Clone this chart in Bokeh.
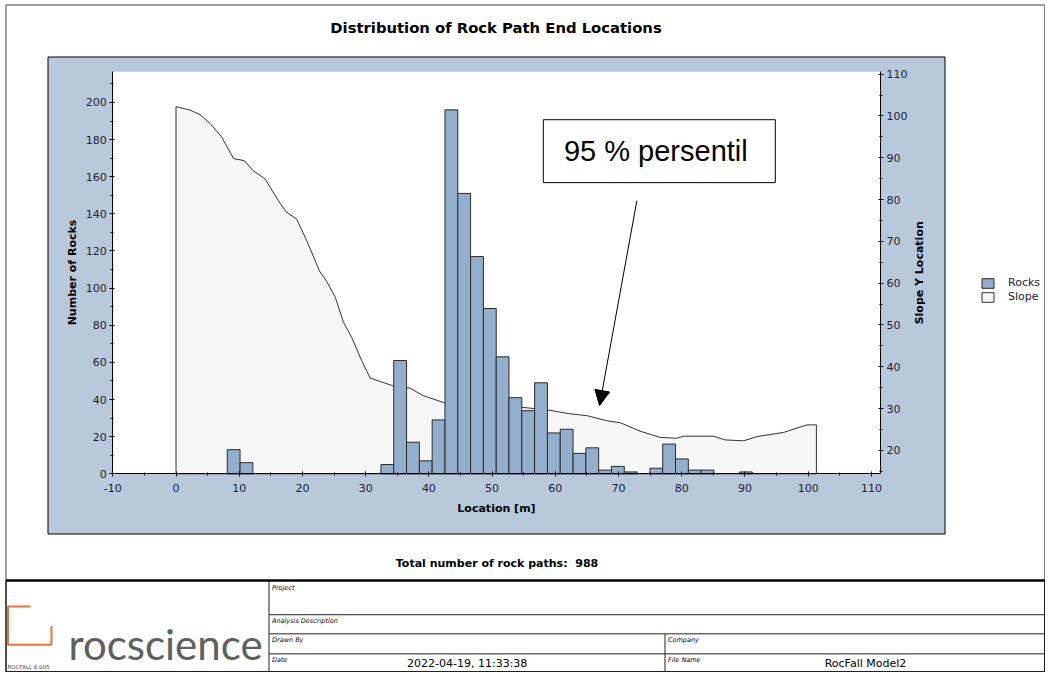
import math
from bokeh.plotting import figure
from bokeh.models import (Range1d, LinearAxis, FixedTicker, Legend, LegendItem,
                          Arrow, NormalHead)
from bokeh.core.properties import value
from bokeh.embed import file_html
from bokeh.resources import INLINE

# ---------------- data ----------------
title_text = "Distribution of Rock Path End Locations"
x_label = "Location [m]"
yl_label = "Number of Rocks"
yr_label = "Slope Y Location"
total_paths = 988

bin_width = 2.026  # m, histogram bin width (50 bins over the slope length)
rock_counts = [0, 0, 0, 0, 13, 6, 0, 0, 0, 0,
               0, 0, 0, 0, 0, 0, 5, 61, 17, 7,
               29, 196, 151, 117, 89, 63, 41, 34, 49, 22,
               24, 11, 14, 2, 4, 1, 0, 3, 16, 8,
               2, 2, 0, 0, 1, 0, 0, 0, 0, 0]

slope_x = [0.0, 2.2, 3.8, 5.4, 7.2, 9.1, 10.8, 12.2, 14.1, 16.2, 17.4, 19.1,
           20.7, 22.7, 23.8, 25.2, 26.5, 27.8, 29.4, 30.7, 34.4, 37.0, 39.1,
           42.6, 47.5, 52.7, 54.7, 58.7, 62.1, 65.0, 68.1, 70.3, 73.4, 76.6,
           79.2, 80.3, 85.0, 86.9, 89.8, 91.9, 96.1, 99.8, 101.3]
slope_y = [102.2, 101.4, 100.3, 98.2, 95.0, 89.8, 89.3, 86.9, 84.9, 79.7, 77.1, 75.3,
           70.1, 62.9, 60.5, 56.6, 50.6, 47.0, 41.4, 37.3, 35.4, 34.9, 33.1,
           31.3, 31.0, 30.7, 30.3, 29.7, 28.8, 28.3, 27.1, 26.6, 24.6, 23.1,
           22.9, 23.4, 23.4, 22.5, 22.3, 23.3, 24.3, 26.1, 26.1]

x_ticks = list(range(-10, 111, 10))
x_minor = list(range(-5, 110, 10))
yl_ticks = list(range(0, 201, 20))
yl_minor = list(range(10, 211, 20))
yr_ticks = list(range(20, 111, 10))
yr_minor = list(range(15, 110, 10))

annot_text = "95 % persentil"
annot_box = dict(left=58.1, right=94.8, top=190.7, bottom=156.8)   # chart units
annot_text_pos = (75.9, 174.0)
annot_arrow = dict(x_start=72.9, y_start=147.1, x_end=67.0, y_end=36.8)

tb_project = "Project"
tb_desc = "Analysis Description"
tb_drawn = "Drawn By"
tb_date_lbl = "Date"
tb_company = "Company"
tb_file_lbl = "File Name"
tb_date = "2022-04-19, 11:33:38"
tb_file = "RocFall Model2"
logo_text = "rocscience"
version_text = "ROCFALL 8.005"

# ---------------- layout ----------------
W, H = 1045, 672

FR_L, FR_R, FR_T, FR_B = 112.3, 880.0, 71.3, 473.3
X0, X1 = -10.0, 111.44
YL0, YL1 = 0.0, 216.5
YR0, YR1 = 14.4, 110.55

BLUE = "#B8C9DC"
BAR = "#94AECE"
SLOPE_FILL = "#F7F7F7"
TICK_COL = "#222233"


def ext_x(d0, d1, p0, p1):
    s = (d1 - d0) / (p1 - p0)
    return Range1d(d0 - p0 * s, d0 + (W - p0) * s)


def ext_y(d0, d1, pb, pt):
    s = (d1 - d0) / (pb - pt)
    return Range1d(d0 - (H - pb) * s, d0 + pb * s)


p = figure(width=W, height=H, x_range=Range1d(0, W), y_range=Range1d(H, 0),
           x_axis_type=None, y_axis_type=None, min_border=0,
           toolbar_location=None, output_backend="svg",
           background_fill_color="white", border_fill_color="white")
p.outline_line_color = None
p.extra_x_ranges = {"cx": ext_x(X0, X1, FR_L, FR_R)}
p.extra_y_ranges = {"yl": ext_y(YL0, YL1, FR_B, FR_T),
                    "yr": ext_y(YR0, YR1, FR_B, FR_T)}


def txt(x, y, s, size, font="DejaVu Sans", style="normal", color="black",
        align="left", baseline="middle", angle=0, **kw):
    p.text(x=[x], y=[y], text=[s], text_font=value(font), text_font_size=size,
           text_font_style=style, text_color=color, text_align=align,
           text_baseline=baseline, angle=angle, **kw)


# outer frame
p.quad(left=5.5, right=W - 0.75, top=4.5, bottom=H - 0.75,
       fill_color=None, line_color="#808080", line_width=1.5)

# title
txt(495.5, 27, title_text, "14.8px", style="bold", align="center")

# blue panel and white plot area
p.quad(left=47.5, right=944.5, top=56.5, bottom=533.5,
       fill_color=BLUE, line_color="black", line_width=1)
p.quad(left=FR_L, right=FR_R, top=FR_T, bottom=FR_B,
       fill_color="white", line_color=None)

# slope area
px = [slope_x[0]] + slope_x + [slope_x[-1]]
py = [YR0] + slope_y + [YR0]
slope_r = p.patch(x=px, y=py, x_range_name="cx", y_range_name="yr",
                  fill_color=SLOPE_FILL, line_color="#333333", line_width=1)

# histogram bars
centers = [(i + 0.5) * bin_width for i, n in enumerate(rock_counts) if n > 0]
counts = [n for n in rock_counts if n > 0]
bars_r = p.vbar(x=centers, top=counts, bottom=0, width=bin_width,
                x_range_name="cx", y_range_name="yl",
                fill_color=BAR, line_color="#2a2a2a", line_width=1)


# axes
def style(ax):
    ax.axis_line_color = "black"
    ax.major_tick_line_color = "black"
    ax.minor_tick_line_color = "black"
    ax.major_tick_in = 2
    ax.major_tick_out = 3
    ax.minor_tick_in = 1
    ax.minor_tick_out = 2
    ax.major_label_text_font = "DejaVu Sans"
    ax.major_label_text_font_size = "11px"
    ax.major_label_text_color = TICK_COL
    ax.major_label_standoff = 3
    ax.axis_label_text_font = "DejaVu Sans"
    ax.axis_label_text_font_style = "bold"
    ax.axis_label_text_font_size = "11px"
    ax.axis_label_text_color = "black"


xa = LinearAxis(x_range_name="cx", y_range_name="yl", fixed_location=YL0,
                bounds=(X0, X1), ticker=FixedTicker(ticks=x_ticks, minor_ticks=x_minor),
                axis_label=x_label)
style(xa)
xa.major_label_standoff = 7
xa.axis_label_standoff = 7
xa.major_label_overrides = {t: str(t) for t in x_ticks}
p.add_layout(xa, "below")

yla = LinearAxis(x_range_name="cx", y_range_name="yl", fixed_location=X0,
                 bounds=(YL0, YL1), ticker=FixedTicker(ticks=yl_ticks, minor_ticks=yl_minor),
                 axis_label=yl_label)
style(yla)
yla.axis_label_standoff = 4
p.add_layout(yla, "left")

yra = LinearAxis(x_range_name="cx", y_range_name="yr", fixed_location=X1,
                 bounds=(YR0, YR1), ticker=FixedTicker(ticks=yr_ticks, minor_ticks=yr_minor))
style(yra)
p.add_layout(yra, "right")
# right axis title (reads bottom-to-top as in the original)
txt(919, (FR_T + FR_B) / 2, yr_label, "11px", style="bold", align="center",
    angle=math.pi / 2)

# annotation
p.quad(x_range_name="cx", y_range_name="yl", fill_color="white",
       line_color="black", line_width=1, **annot_box)
p.text(x=[annot_text_pos[0]], y=[annot_text_pos[1]], text=[annot_text],
       x_range_name="cx", y_range_name="yl", text_font=value("Liberation Sans"),
       text_font_size="29px", text_color="black", text_align="center",
       text_baseline="middle")
p.add_layout(Arrow(end=NormalHead(size=15, fill_color="black", line_color="black"),
                   line_color="black", line_width=1, x_range_name="cx",
                   y_range_name="yl", **annot_arrow))

# legend
legend = Legend(items=[LegendItem(label="Rocks", renderers=[bars_r]),
                       LegendItem(label="Slope", renderers=[slope_r])],
                location=(980, H - 303), padding=0, margin=0, spacing=1,
                glyph_width=15, glyph_height=12, label_height=12,
                label_standoff=13, label_text_font="DejaVu Sans",
                label_text_font_size="11px", label_text_color=TICK_COL,
                border_line_color=None, background_fill_alpha=0)
p.add_layout(legend)

# total paths
txt(496.5, 563, "Total number of rock paths:\u00a0 %d" % total_paths, "11px",
    style="bold", align="center")

# ---------------- title block ----------------
TB_T = 580.0
TB_B = H - 0.75
TB_S = (TB_B - TB_T) / (687.0 - 583.5)


def tby(Y):
    return TB_T + (Y - 583.5) * TB_S


R1, R2, R3 = tby(622.3), tby(644.0), tby(666.7)
DIV1, DIV2 = 268.5, 664.5
TB_L, TB_R = 5.5, W - 0.75
p.segment(x0=[TB_L], y0=[TB_T], x1=[TB_R], y1=[TB_T], line_color="black", line_width=2.5)
p.quad(left=TB_L, right=TB_R, top=TB_T, bottom=TB_B, fill_color=None,
       line_color="black", line_width=1)
p.segment(x0=[DIV1, DIV1, DIV1, DIV1, DIV2], y0=[TB_T, R1, R2, R3, R2],
          x1=[DIV1, TB_R, TB_R, TB_R, DIV2], y1=[TB_B, R1, R2, R3, TB_B],
          line_color="#222222", line_width=1)

lab_font = "6.5px"
txt(DIV1 + 3, TB_T + 3, tb_project, lab_font, style="italic", baseline="top")
txt(DIV1 + 3, R1 + 2, tb_desc, lab_font, style="italic", baseline="top")
txt(DIV1 + 3, R2 + 2, tb_drawn, lab_font, style="italic", baseline="top")
txt(DIV1 + 3, R3 + 2, tb_date_lbl, lab_font, style="italic", baseline="top")
txt(DIV2 + 3, R2 + 2, tb_company, lab_font, style="italic", baseline="top")
txt(DIV2 + 3, R3 + 2, tb_file_lbl, lab_font, style="italic", baseline="top")
txt(466.7, (R3 + TB_B) / 2 + 1, tb_date, "11px", align="center")
txt(865, (R3 + TB_B) / 2 + 1, tb_file, "11px", align="center")

# logo
ORANGE = "#E8743B"
p.line(x=[30, 7.5, 7.5, 51, 51], y=[tby(613), tby(613), tby(656.5), tby(656.5), tby(635)],
       line_color=ORANGE, line_width=2)
txt(68, tby(655), logo_text, "42px", font="Lato", color="#5E5F61",
    baseline="alphabetic")
txt(7, tby(682), version_text, "5.5px", color="#444444")

open("out.html", "w").write(file_html(p, INLINE))
